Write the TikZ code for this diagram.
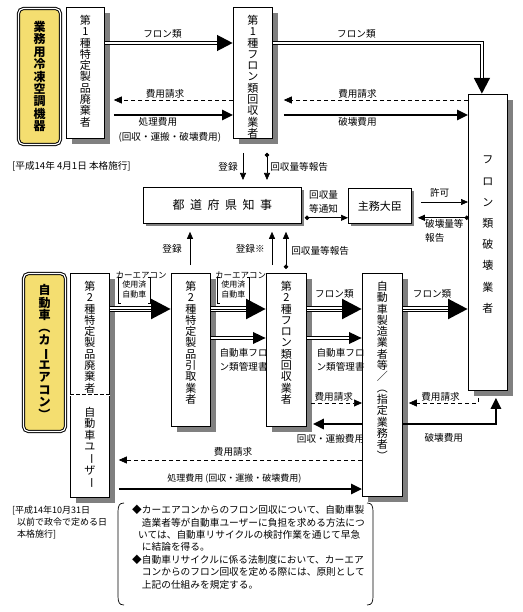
\documentclass[tikz,border=0pt]{standalone}
\usepackage{fontspec}
\setmainfont{Noto Sans CJK JP}
\usepackage{graphicx}
\usetikzlibrary{positioning, arrows.meta, shadows}
\definecolor{tagyellow}{RGB}{244,222,112}
\definecolor{shadowgray}{RGB}{128,128,128}
\newcommand{\vrot}[1]{\rotatebox[origin=c]{-90}{#1}}
\newcommand{\gap}{\hspace{5.5pt}}

\begin{document}
\begin{tikzpicture}
  [x=1pt, y=-1pt,
   every node/.style={inner sep=0pt, font=\fontsize{9.6}{11.5}\selectfont},
   box/.style={draw, fill=white, line width=0.8pt, anchor=north west,
     drop shadow={shadow xshift=#1, shadow yshift=-#1, fill=shadowgray, opacity=1}},
   box/.default=6pt,
   vtext/.style={align=center, anchor=north, font=\fontsize{11}{11.3}\selectfont},
   tag/.style={draw, line width=1pt, double, double distance=1.2pt, rounded corners=5pt,
     fill=tagyellow, anchor=north west, align=center,
     font=\bfseries\fontsize{12}{12.4}\selectfont},
   twoline/.style={align=left, font=\fontsize{9.6}{14}\selectfont},
   notice/.style={line width=0.7pt, -{Triangle[length=7pt, width=6pt]}},
   report/.style={line width=0.7pt, {Circle[length=4.5pt]}-{Triangle[length=7pt, width=6pt]}},
   bill/.style={line width=0.7pt, dash pattern=on 4pt off 3pt, -{Triangle[length=8pt, width=7pt]}},
   pay/.style={line width=2.6pt, -{Triangle[length=11pt, width=10pt]}},
   flow/.style={line width=4pt, -{Triangle[length=16pt, width=15pt]},
     postaction={draw=white, line width=1.6pt, shorten >=16pt, -}},
   mgmt/.style={line width=3.6pt, -{Triangle[length=13pt, width=11pt]},
     postaction={draw=white, line width=1.4pt, shorten >=13pt, -}},
   carflow/.style={line width=5.7pt, -{Triangle[length=20pt, width=19pt]},
     postaction={draw=white, line width=3.9pt, shorten >=20pt, -},
     postaction={draw=black, line width=0.9pt, shorten >=20pt, -}}]

  \useasboundingbox (0,0) rectangle (522,612);

  % upper row
  \node[tag, minimum width=42pt, minimum height=136pt] (tagA) at (18,8) {業\\務\\用\\冷\\凍\\空\\調\\機\\器};
  \node[box, minimum width=38pt, minimum height=131pt] (disp1) at (66,7) {};
  \node[vtext] (disp1txt) at ([yshift=-8pt]disp1.north) {第\\1\\種\\特\\定\\製\\品\\廃\\棄\\者};
  \node[box, minimum width=39pt, minimum height=131pt] (rec1) at (233,7) {};
  \node[vtext] (rec1txt) at ([yshift=-8pt]rec1.north) {第\\1\\種\\フ\\ロ\\ン\\類\\回\\収\\業\\者};
  \node[box, minimum width=39pt, minimum height=296pt] (destroy) at (468,94) {};
  \node[vtext, font=\fontsize{11}{21.2}\selectfont] (destroytxt) at ([yshift=-62pt]destroy.north) {フ\\ロ\\ン\\類\\破\\壊\\業\\者};
  \node[box=3pt, minimum width=158pt, minimum height=36pt, font=\fontsize{12}{14}\selectfont] (pref) at (143,187) {都\gap 道\gap 府\gap 県\gap 知\gap 事};
  \node[box=3pt, minimum width=63pt, minimum height=35pt, font=\fontsize{11}{13}\selectfont] (minister) at (348,188) {主務大臣};

  % lower row
  \node[tag, minimum width=42pt, minimum height=158pt] (tagB) at (23,273) {自\\動\\車\\\vrot{（}\\カ\\\vrot{ー}\\エ\\ア\\コ\\ン\\\vrot{）}};
  \node[box, minimum width=39pt, minimum height=224pt] (disp2) at (70,273) {};
  \draw[line width=0.6pt, double, double distance=1pt, dash pattern=on 4pt off 2pt]
    ([yshift=-122pt]disp2.north west) -- ([yshift=-122pt]disp2.north east);
  \node[vtext] (disp2txt) at ([yshift=-8pt]disp2.north) {第\\2\\種\\特\\定\\製\\品\\廃\\棄\\者};
  \node[vtext] (usertxt) at ([yshift=-134pt]disp2.north) {自\\動\\車\\ユ\\\vrot{ー}\\ザ\\\vrot{ー}};
  \node[box, minimum width=39pt, minimum height=153pt] (pickup) at (171,273) {};
  \node[vtext] (pickuptxt) at ([yshift=-8pt]pickup.north) {第\\2\\種\\特\\定\\製\\品\\引\\取\\業\\者};
  \node[box, minimum width=40pt, minimum height=153pt] (rec2) at (266,273) {};
  \node[vtext] (rec2txt) at ([yshift=-8pt]rec2.north) {第\\2\\種\\フ\\ロ\\ン\\類\\回\\収\\業\\者};
  \node[box, minimum width=40pt, minimum height=223pt] (maker) at (362,273) {};
  \node[vtext] (makertxt) at ([yshift=-8pt]maker.north) {自\\動\\車\\製\\造\\業\\者\\等\\／\\\vrot{（}\\指\\定\\業\\務\\者\\\vrot{）}};

  \coordinate (lvA) at (0,43);
  \coordinate (lvB) at (0,100);
  \coordinate (lvC) at (0,115);
  \coordinate (lvD) at (0,309);
  \coordinate (lvE) at (0,338);
  \coordinate (lvF) at (0,403);
  \coordinate (lvG) at (0,424);
  \coordinate (lvH) at (0,460);
  \coordinate (lvI) at (0,489);

  % upper flows
  \draw[flow] (disp1.east |- lvA) -- (rec1.west |- lvA) node[pos=0.45, above=3pt] (flonA) {フロン類};
  \draw[bill] (rec1.west |- lvB) -- ([xshift=9pt]disp1.east |- lvB) node[pos=0.57, above=1pt] (billA) {費用請求};
  \draw[pay] ([xshift=9pt]disp1.east |- lvC) -- (rec1.west |- lvC)
    node[pos=0.37, below=1pt] (payA) {処理費用}
    node[pos=0.47, below=16pt] (payAsub) {(回収・運搬・破壊費用)};
  \draw[flow] (rec1.east |- lvA) -| ([xshift=-6pt]destroy.north) node[pos=0.2, above=3pt] (flonB) {フロン類};
  \draw[bill] (destroy.west |- lvB) -- ([xshift=11pt]rec1.east |- lvB) node[pos=0.6, above=1pt] (billB) {費用請求};
  \draw[pay] ([xshift=11pt]rec1.east |- lvC) -- (destroy.west |- lvC) node[pos=0.4, below=1pt] (payB) {破壊費用};

  % registration and reports
  \coordinate (regA) at ([xshift=10pt, yshift=-14pt]rec1.south west);
  \draw[notice] (regA) -- ([yshift=7pt]regA |- pref.north) node[midway, left=5pt] (regAlbl) {登録};
  \coordinate (repA) at ([xshift=34pt, yshift=-14pt]rec1.south west);
  \draw[report] (repA) -- ([yshift=7pt]repA |- pref.north) node[midway, right=3pt] (repAlbl) {回収量等報告};
  \coordinate (notA) at ([xshift=3pt, yshift=6pt]pref.south east);
  \draw[report] (notA) -- (minister.west |- notA)
    node[pos=0, anchor=south west, xshift=4pt, yshift=4pt, twoline] (notAlbl) {回収量\\等通知};
  \coordinate (permit) at ([xshift=9pt, yshift=-14pt]minister.north east);
  \draw[notice] (permit) -- (destroy.west |- permit) node[pos=0.4, above=4pt] (permitlbl) {許可};
  \coordinate (repB) at ([xshift=1pt]destroy.west |- notA);
  \draw[report] (repB) -- ([xshift=6pt]minister.east |- repB)
    node[pos=1, anchor=north west, xshift=7pt, yshift=-1pt, twoline] (repBlbl) {破壊量等\\報告};
  \coordinate (regB) at ([xshift=19pt, yshift=8pt]pickup.north west);
  \draw[notice] (regB) -- ([yshift=-8pt]regB |- pref.south) node[midway, left=8pt] (regBlbl) {登録};
  \coordinate (regC) at ([xshift=6pt, yshift=8pt]rec2.north west);
  \draw[notice] (regC) -- ([yshift=-8pt]regC |- pref.south) node[midway, left=7pt] (regClbl) {登録※};
  \coordinate (repC) at ([xshift=20pt, yshift=4pt]rec2.north west);
  \draw[report] (repC) -- ([yshift=-8pt]repC |- pref.south) node[midway, right=5pt] (repClbl) {回収量等報告};

  % lower flows
  \draw[carflow] (disp2.east |- lvD) -- (pickup.west |- lvD)
    node[pos=0.51, above=27pt, font=\fontsize{8.5}{10}\selectfont] (carA) {カーエアコン}
    node[pos=0.4, above=6pt, inner sep=1.5pt, align=center, font=\fontsize{8}{10}\selectfont] (usedA) {使用済\\自動車};
  \draw[carflow] (pickup.east |- lvD) -- (rec2.west |- lvD)
    node[pos=0.54, above=27pt, font=\fontsize{8.5}{10}\selectfont] (carB) {カーエアコン}
    node[pos=0.41, above=6pt, inner sep=1.5pt, align=center, font=\fontsize{8}{10}\selectfont] (usedB) {使用済\\自動車};
  \foreach \u in {usedA, usedB} {
    \draw[line width=0.6pt] ([xshift=3pt]\u.north west) -- (\u.north west) -- (\u.south west) -- ([xshift=3pt]\u.south west);
    \draw[line width=0.6pt] ([xshift=-3pt]\u.north east) -- (\u.north east) -- (\u.south east) -- ([xshift=-3pt]\u.south east);
  }
  \draw[mgmt] (pickup.east |- lvE) -- (rec2.west |- lvE)
    node[pos=0, anchor=north west, xshift=7pt, yshift=-9pt, twoline] (mgmtA) {自動車フロ\\ン類管理書};
  \draw[carflow] (rec2.east |- lvD) -- (maker.west |- lvD) node[midway, above=8pt] (flonC) {フロン類};
  \draw[mgmt] (rec2.east |- lvE) -- (maker.west |- lvE)
    node[pos=0, anchor=north west, xshift=8pt, yshift=-9pt, twoline] (mgmtB) {自動車フロ\\ン類管理書};
  \draw[bill] ([xshift=4pt]rec2.east |- lvF) -- (maker.west |- lvF) node[pos=0.45, above=1pt] (billC) {費用請求};
  \draw[pay] (maker.west |- lvG) -- ([xshift=6pt]rec2.east |- lvG) node[pos=0.64, below=9pt] (payC) {回収・運搬費用};
  \draw[carflow] (maker.east |- lvD) -- (destroy.west |- lvD) node[pos=0.45, above=8pt] (flonD) {フロン類};
  \draw[bill] ([xshift=-10pt, yshift=-7pt]destroy.south) |- ([xshift=6pt]maker.east |- lvF)
    node[pos=0.77, above=1pt] (billD) {費用請求};
  \draw[pay] (maker.east |- lvG) -| ([xshift=8pt, yshift=-7pt]destroy.south)
    node[pos=0.22, below=8pt] (payD) {破壊費用};
  \draw[bill] (maker.west |- lvH) -- ([xshift=9pt]disp2.east |- lvH) node[pos=0.53, above=3pt] (billE) {費用請求};
  \draw[pay] ([xshift=9pt]disp2.east |- lvI) -- (maker.west |- lvI)
    node[pos=0.475, above=4pt, font=\fontsize{9}{11}\selectfont] (payE) {処理費用 (回収・運搬・破壊費用)};

  % notes
  \node[anchor=west] (dateA) at (12,166) {[平成14年 4月1日 本格施行]};
  \node[anchor=north west, align=left, font=\fontsize{9}{11.8}\selectfont] (dateB) at (12,506)
    {[平成14年10月31日\\\hspace*{5pt}以前で政令で定める日\\\hspace*{5pt}本格施行]};
  \node[anchor=north west, align=left, font=\fontsize{9.7}{12.4}\selectfont] (memo) at (132,505)
    {◆カーエアコンからのフロン回収について、自動車製\\
     \hspace*{9.7pt}造業者等が自動車ユーザーに負担を求める方法につ\\
     \hspace*{6pt}いては、自動車リサイクルの検討作業を通じて早急\\
     \hspace*{9.7pt}に結論を得る。\\
     ◆自動車リサイクルに係る法制度において、カーエア\\
     \hspace*{9.7pt}コンからのフロン回収を定める際には、原則として\\
     \hspace*{9.7pt}上記の仕組みを規定する。};
  \draw[line width=0.7pt] (124,503) .. controls (119,503) and (118,506) .. (118,512)
    -- (118,596) .. controls (118,602) and (119,605) .. (124,605);
  \draw[line width=0.7pt] (367,503) .. controls (372,503) and (373,506) .. (373,512)
    -- (373,596) .. controls (373,602) and (372,605) .. (367,605);
\end{tikzpicture}
\end{document}
